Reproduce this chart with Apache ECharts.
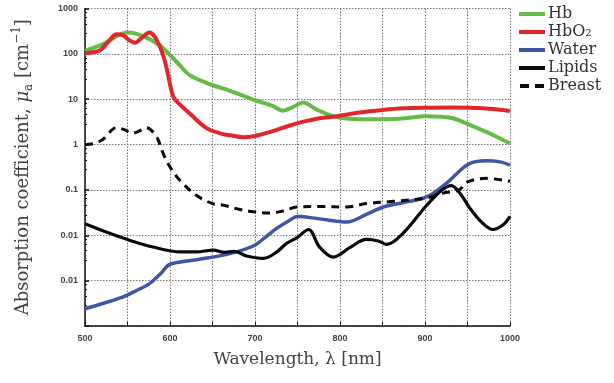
<!DOCTYPE html>
<html>
<head>
<meta charset="utf-8">
<script src="https://cdn.jsdelivr.net/npm/echarts@6/dist/echarts.min.js"></script>
<style>html,body{margin:0;padding:0;background:#fff}#c{width:614px;height:383px}</style>
</head>
<body>
<div id="c"></div>
<script>
// Series data: [wavelength nm, absorption coefficient cm^-1]
const seriesNames = ['Hb', 'HbO\u2082', 'Water', 'Lipids', 'Breast'];
const hb = [[500,117],[520,160],[535,230],[549,297],[560,280],[572,229],[588,155],[600,94],[612,55],[623,34],[650,20.5],[670,15.5],[700,9.5],[720,7.2],[733,5.6],[745,6.8],[757,8.5],[770,6.3],[785,4.7],[800,3.9],[835,3.6],[870,3.7],[902,4.2],[920,4.1],[933,3.8],[953,2.7],[975,1.8],[1000,1.06]];
const hbo2 = [[500,105],[510,108],[518,121],[528,190],[537,270],[545,255],[552,200],[559,176],[566,220],[576,297],[582,240],[588,145],[593,80],[597,40],[604,11.3],[612,7.5],[623,4.9],[643,2.3],[660,1.75],[671,1.6],[686,1.45],[700,1.55],[718,1.9],[740,2.6],[757,3.2],[776,3.8],[796,4.2],[823,5.1],[850,5.8],[875,6.3],[902,6.5],[930,6.6],[953,6.5],[980,6.1],[1000,5.5]];
const water = [[500,0.00024],[520,0.00031],[545,0.00044],[560,0.0006],[576,0.00086],[590,0.0015],[600,0.0023],[631,0.0029],[667,0.0038],[698,0.0058],[712,0.009],[725,0.014],[740,0.021],[750,0.026],[776,0.023],[808,0.0196],[831,0.029],[851,0.042],[875,0.053],[902,0.07],[925,0.14],[951,0.37],[972,0.44],[990,0.41],[1000,0.35]];
const lipids = [[500,0.018],[525,0.0118],[553,0.0077],[580,0.0055],[612,0.0043],[631,0.0043],[651,0.0047],[664,0.0042],[676,0.0044],[690,0.0035],[710,0.0031],[725,0.0042],[737,0.0066],[750,0.009],[763,0.0134],[776,0.0055],[792,0.0033],[812,0.0054],[831,0.0081],[845,0.0075],[855,0.0063],[874,0.011],[902,0.046],[920,0.1],[931,0.125],[942,0.08],[953,0.039],[966,0.02],[980,0.0134],[992,0.017],[1000,0.026]];
const breast = [[500,1.0],[510,1.05],[521,1.3],[537,2.35],[547,2.1],[555,1.76],[564,2.0],[572,2.35],[584,1.5],[592,0.63],[600,0.32],[612,0.16],[631,0.076],[650,0.05],[663,0.046],[680,0.038],[698,0.033],[718,0.031],[735,0.035],[749,0.042],[776,0.043],[808,0.042],[831,0.05],[863,0.056],[902,0.067],[921,0.085],[940,0.1],[950,0.15],[972,0.18],[1000,0.155]];
// Tick labels (as printed in the source, indexed by decade exponent)
const yTickLabels = {'-4': '', '-3': '0.01', '-2': '0.01', '-1': '0.1', '0': '1', '1': '10', '2': '100', '3': '1000'};
const xTickLabels = ['500', '600', '700', '800', '900', '1000'];

const serif = "'DejaVu Serif', 'Liberation Serif', serif";
const chart = echarts.init(document.getElementById('c'), null, {renderer: 'canvas'});
const mk = (name, data, color, width, type) => ({
  name, type: 'line', data, symbol: 'none', smooth: 0.35,
  lineStyle: {color, width, type: type || 'solid'}, itemStyle: {color}
});
const dashIcon = 'path://M0,0h9v4h-9zM15,0h9v4h-9z';
chart.setOption({
  animation: false,
  backgroundColor: '#fff',
  grid: {left: 85, right: 104, top: 8.5, bottom: 57, containLabel: false},
  legend: {
    orient: 'vertical', left: 514, top: 0, itemGap: 0, itemWidth: 26, itemHeight: 4,
    data: seriesNames.map((n, i) => ({name: n, icon: i === 4 ? dashIcon : 'rect'})),
    textStyle: {fontFamily: serif, fontSize: 16, color: '#333', lineHeight: 18, padding: [0,0,0,-2]}
  },
  xAxis: {
    type: 'value', min: 500, max: 1000, interval: 50,
    name: 'Wavelength, \u03bb [nm]', nameLocation: 'middle', nameGap: 25,
    nameTextStyle: {fontFamily: serif, fontSize: 17, color: '#444'},
    axisLine: {lineStyle: {color: '#111', width: 1.5}},
    axisTick: {inside: true, length: 4, lineStyle: {color: '#111'}},
    axisLabel: {
      fontFamily: "'Liberation Sans', Arial, sans-serif", fontSize: 9, fontWeight: 'bold', color: '#444', margin: 8,
      formatter: v => xTickLabels.indexOf(String(v)) >= 0 ? String(v) : ''
    },
    splitLine: {show: true, lineStyle: {color: '#777', type: [1.5, 1.5], width: 1}}
  },
  yAxis: {
    type: 'log', logBase: 10, min: 0.0001, max: 1000, splitNumber: 7,
    name: 'Absorption coefficient, {it|\u03bc}{sub|a} [cm{sup|\u22121}]',
    nameLocation: 'middle', nameGap: 50,
    nameTextStyle: {
      fontFamily: serif, fontSize: 18, color: '#444', lineHeight: 24,
      rich: {
        it: {fontFamily: serif, fontSize: 18, fontStyle: 'italic', color: '#444'},
        sub: {fontFamily: serif, fontSize: 12, verticalAlign: 'bottom', color: '#444', lineHeight: 24},
        sup: {fontFamily: serif, fontSize: 12, verticalAlign: 'top', color: '#444', lineHeight: 24}
      }
    },
    axisLine: {lineStyle: {color: '#111', width: 1.5}},
    axisTick: {inside: true, length: 4, lineStyle: {color: '#111', width: 1.5}},
    minorTick: {show: true, splitNumber: 5, length: 2, lineStyle: {color: '#111'}},
    axisLabel: {
      fontFamily: "'Liberation Sans', Arial, sans-serif", fontSize: 9, fontWeight: 'bold', color: '#444', margin: 7,
      formatter: v => { const e = Math.round(Math.log10(v)); return yTickLabels[String(e)] || ''; }
    },
    splitLine: {show: true, lineStyle: {color: '#777', type: [1.5, 1.5], width: 1}}
  },
  series: [
    mk('Hb', hb, '#66bb46', 4),
    mk('HbO\u2082', hbo2, '#e3262b', 4),
    mk('Water', water, '#3f55a6', 3.5),
    mk('Lipids', lipids, '#0a0a0a', 3.2),
    mk('Breast', breast, '#0a0a0a', 3, [8, 6])
  ]
});
</script>
</body>
</html>
